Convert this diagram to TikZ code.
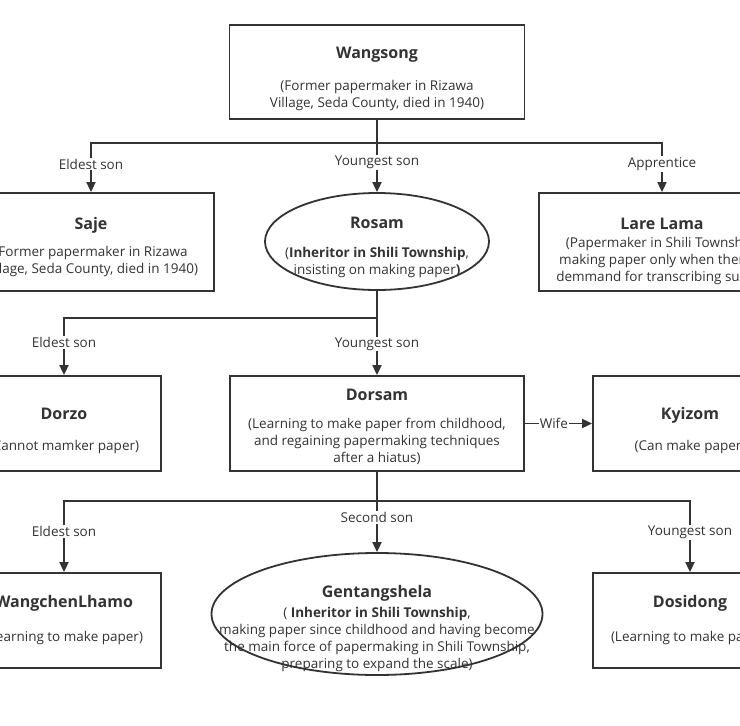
\documentclass[tikz,border=0pt]{standalone}
\usepackage{fontspec}
\setmainfont{Open Sans}
\usetikzlibrary{arrows.meta,shapes.geometric}
\definecolor{ink}{HTML}{333333}
\newcommand\ttl[1]{{\fontsize{16}{19}\selectfont\bfseries #1}}
\tikzset{
  shp/.style={draw=ink, line width=1.8pt, inner sep=0pt},
  box/.style={shp, rectangle},
  oval/.style={shp, ellipse},
  txt/.style={align=center, text=ink, inner sep=0pt, font=\fontsize{13.5}{17}\selectfont},
  line/.style={draw=ink, line width=1.8pt},
  arr/.style={line, -{Triangle[length=10pt,width=9pt]}},
  lab/.style={fill=white, text=ink, inner sep=1pt, font=\fontsize{13.5}{16}\selectfont}
}
\begin{document}
\begin{tikzpicture}[x=1pt,y=-1pt]
\useasboundingbox (0,0) rectangle (740,726);
\clip (0,0) rectangle (740,726);
\fill[white] (0,0) rectangle (740,726);

% generation 1
\node[box, minimum width=295pt, minimum height=94pt] (wang) at (377,72) {};
\node[txt] (wangT) at ([yshift=-7pt]wang.center)
  {\ttl{Wangsong}\\[15pt](Former papermaker in Rizawa\\Village, Seda County, died in 1940)};

% generation 2
\node[box, minimum width=246pt, minimum height=98pt] (saje) at (91,242) {};
\node[txt] (sajeT) at ([yshift=-5pt]saje.center)
  {\ttl{Saje}\\[10pt](Former papermaker in Rizawa\\Village, Seda County, died in 1940)};
\node[oval, minimum width=224pt, minimum height=97pt] (rosam) at (377,241.5) {};
\node[txt] (rosamT) at ([yshift=-6pt]rosam.center)
  {\ttl{Rosam}\\[12pt](\textbf{Inheritor in Shili Township},\\insisting on making paper\textbf{)}};
\node[box, minimum width=246pt, minimum height=98pt] (lare) at (662,242) {};
\node[txt] (lareT) at ([yshift=-9.5pt]lare.center)
  {\ttl{Lare Lama}\\[1pt](Papermaker in Shili Township,\\making paper only when there is\\demmand for transcribing sutras)};

% generation 3
\node[box, minimum width=194pt, minimum height=95pt] (dorzo) at (64,423.5) {};
\node[txt] (dorzoT) at ([yshift=-7pt]dorzo.center)
  {\ttl{Dorzo}\\[14pt](Cannot mamker paper)};
\node[box, minimum width=294pt, minimum height=95pt] (dorsam) at (377,423.5) {};
\node[txt] (dorsamT) at ([yshift=-3pt]dorsam.center)
  {\ttl{Dorsam}\\[11pt](Learning to make paper from childhood,\\and regaining papermaking techniques\\after a hiatus)};
\node[box, minimum width=194pt, minimum height=95pt] (kyizom) at (690,423.5) {};
\node[txt] (kyizomT) at ([yshift=-7pt]kyizom.center)
  {\ttl{Kyizom}\\[14pt](Can make paper)};

% generation 4
\node[box, minimum width=194pt, minimum height=95pt] (wcl) at (64,620.5) {};
\node[txt] (wclT) at (wcl.center)
  {\ttl{WangchenLhamo}\\[17pt](Learning to make paper)};
\node[oval, minimum width=331pt, minimum height=122pt] (gent) at (377,614) {};
\node[txt] (gentT) at ([yshift=-14.5pt]gent.center)
  {\ttl{Gentangshela}\\[3pt]( \textbf{Inheritor in Shili Township},\\making paper since childhood and having become\\the main force of papermaking in Shili Township,\\preparing to expand the scale)};
\node[box, minimum width=194pt, minimum height=95pt] (dosi) at (690,620.5) {};
\node[txt] (dosiT) at (dosi.center)
  {\ttl{Dosidong}\\[17pt](Learning to make paper)};

% connectors
\coordinate (j1) at (377,143);
\coordinate (j2) at (377,318);
\coordinate (j3) at (377,501);

\draw[line] (wang.south) -- (j1);
\draw[arr] (j1) -| (saje.north);
\draw[arr] (j1) -- (rosam.north);
\draw[arr] (j1) -| (lare.north);
\node[lab] (l1) at (91,164) {Eldest son};
\node[lab] (l2) at (377,162.5) {Youngest son};
\node[lab] (l3) at (662,164) {Apprentice};

\draw[line] (rosam.south) -- (j2);
\draw[arr] (j2) -| (dorzo.north);
\draw[arr] (j2) -- (dorsam.north);
\node[lab] (l4) at (64,342.5) {Eldest son};
\node[lab] (l5) at (377,344) {Youngest son};

\draw[arr] (dorsam.east) -- (kyizom.west) node[lab, pos=0.43] (l6) {Wife};

\draw[line] (dorsam.south) -- (j3);
\draw[arr] (j3) -| (wcl.north);
\draw[arr] (j3) -- (gent.north);
\draw[arr] (j3) -| (dosi.north);
\node[lab] (l7) at (64,531.5) {Eldest son};
\node[lab] (l8) at (377,517.5) {Second son};
\node[lab] (l9) at (690,532.5) {Youngest son};
\end{tikzpicture}
\end{document}
